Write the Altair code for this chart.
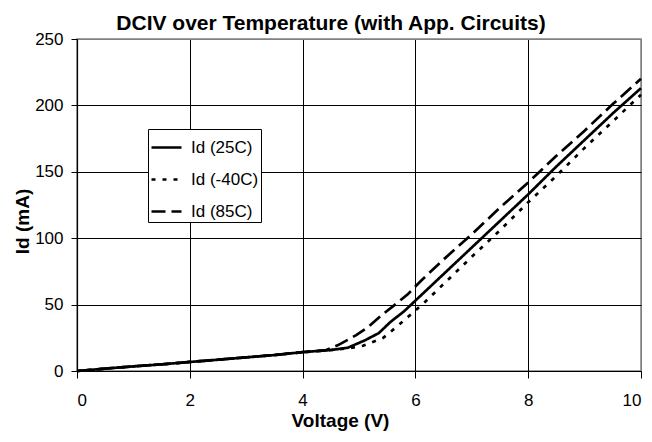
import altair as alt
import pandas as pd

# ---- data ----
v_25 = [0, 0.5, 1, 1.5, 2, 2.5, 3, 3.5, 4, 4.5, 4.8, 5.1, 5.35, 5.56, 5.8, 6.0, 6.35, 6.7, 7, 7.5, 8, 8.5, 9, 9.5, 10]
id_25 = [0, 1.8, 3.5, 5, 6.8, 8.5, 10.3, 12, 14.2, 15.8, 17.5, 23, 28.5, 37, 45, 53, 67, 81, 93, 113, 133, 154, 174, 194, 213]

v_m40 = [0, 0.5, 1, 1.5, 2, 2.5, 3, 3.5, 4, 4.5, 4.8, 5.07, 5.43, 5.66, 5.93, 6.17, 6.5, 7, 7.5, 8, 8.5, 9, 9.5, 10]
id_m40 = [0, 1.8, 3.5, 5, 6.8, 8.5, 10.3, 12, 14.2, 15.8, 17, 19, 25, 33, 43, 52, 65.5, 86, 106, 127, 147, 168, 188, 208]

v_85 = [0, 0.5, 1, 1.5, 2, 2.5, 3, 3.5, 4, 4.4, 4.63, 4.95, 5.16, 5.4, 5.64, 5.87, 6.1, 6.5, 7, 7.5, 8, 8.5, 9, 9.5, 10]
id_85 = [0, 1.8, 3.5, 5, 6.8, 8.5, 10.3, 12, 14.2, 15.5, 19.5, 27, 33, 42, 50, 58, 68, 84, 103, 123, 142, 162, 181, 201, 220]

series_names = ["Id (25C)", "Id (-40C)", "Id (85C)"]
x_ticks = [0, 2, 4, 6, 8, 10]
y_ticks = [0, 50, 100, 150, 200, 250]

rows = []
for name, vs, ids in zip(series_names, [v_25, v_m40, v_85], [id_25, id_m40, id_85]):
    for v, i in zip(vs, ids):
        rows.append({"V": v, "Id": i, "series": name})
df = pd.DataFrame(rows)

FONT = "Liberation Sans, Arial"

chart = alt.Chart(df).mark_line(color="black", strokeWidth=2.7, strokeCap="butt").encode(
    x=alt.X("V:Q",
            scale=alt.Scale(domain=[0, 10], nice=False, zero=False),
            axis=alt.Axis(values=x_ticks, title="Voltage (V)", format="d",
                          tickSize=7, labelPadding=14,
                          titleX=263, titleY=55, titleBaseline="alphabetic",
                          gridColor=alt.condition("datum.value == 10", alt.value("#808080"), alt.value("black")))),
    y=alt.Y("Id:Q",
            scale=alt.Scale(domain=[0, 250], nice=False),
            axis=alt.Axis(values=y_ticks, title="Id (mA)", format="d",
                          tickSize=6, labelPadding=8,
                          titleX=-55, titleY=182, titleAngle=270,
                          titleAlign="center", titleBaseline="middle",
                          gridColor=alt.condition("datum.value == 250", alt.value("#808080"), alt.value("black")))),
    strokeDash=alt.StrokeDash("series:N",
                              scale=alt.Scale(domain=series_names,
                                              range=[[1, 0], [4, 7], [14, 6]]),
                              legend=alt.Legend(title=None, orient="none",
                                                legendX=71, legendY=90,
                                                symbolType="stroke", symbolSize=900,
                                                symbolStrokeWidth=2.5,
                                                symbolStrokeColor="black",
                                                rowPadding=7, labelOffset=8,
                                                labelFontSize=17, labelFont=FONT,
                                                labelColor="black",
                                                strokeColor="black", fillColor="white",
                                                padding=2)),
    order=alt.Order("V:Q"),
    detail="series:N",
).properties(
    width=564,
    height=332,
    autosize=alt.AutoSizeParams(type="none"),
    padding={"left": 69, "top": 31, "right": 3, "bottom": 63},
    title=alt.Title("DCIV over Temperature (with App. Circuits)",
                    font=FONT, fontSize=21, fontWeight="bold", color="black",
                    anchor="middle", dx=-28, dy=8, offset=4),
).configure_view(
    stroke="#808080", strokeWidth=1.5
).configure_axis(
    grid=True, gridOpacity=1, gridWidth=1,
    domainColor="black", domainWidth=1.2, tickColor="black",
    labelFont=FONT, labelFontSize=17, labelColor="black",
    titleFont=FONT, titleFontSize=19, titleFontWeight="bold", titleColor="black",
)

chart.save("out.html", embed_options={"renderer": "svg", "actions": False})
